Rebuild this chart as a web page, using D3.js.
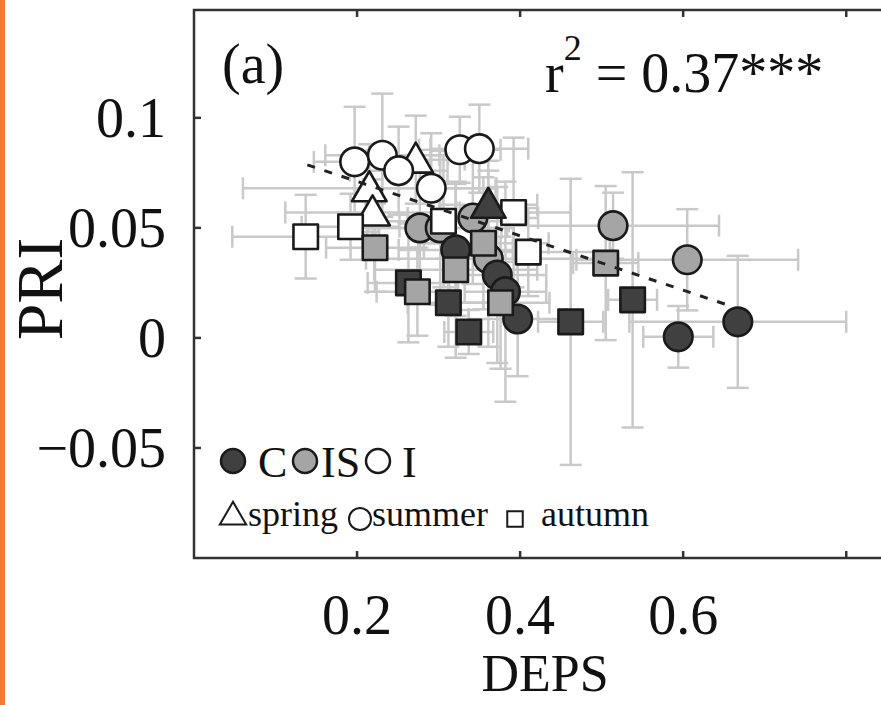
<!DOCTYPE html>
<html>
<head>
<meta charset="utf-8">
<script src="https://cdn.jsdelivr.net/npm/d3@7"></script>
<style>
  html, body { margin: 0; padding: 0; background: #fff; overflow: hidden; }
  svg { display: block; }
</style>
</head>
<body>
<div id="chart"></div>
<script>
// one entry per site x season mean
const groups  = ['I','I','I', 'I','I','I','I','I','I', 'I','I','I','I','I',
                 'IS','IS','IS','IS','IS','IS', 'C', 'C','C','C','C','C','C',
                 'C','C','C','C','C', 'IS','IS','IS','IS','IS','IS'];
const seasons = ['spring','spring','spring',
                 'summer','summer','summer','summer','summer','summer',
                 'autumn','autumn','autumn','autumn','autumn',
                 'summer','summer','summer','summer','summer','summer',
                 'spring',
                 'summer','summer','summer','summer','summer','summer',
                 'autumn','autumn','autumn','autumn','autumn',
                 'autumn','autumn','autumn','autumn','autumn','autumn'];
const deps    = [0.215, 0.219, 0.272,
                 0.197, 0.231, 0.251, 0.291, 0.326, 0.350,
                 0.137, 0.192, 0.306, 0.392, 0.410,
                 0.277, 0.302, 0.342, 0.361, 0.514, 0.605,
                 0.361,
                 0.321, 0.372, 0.382, 0.397, 0.594, 0.667,
                 0.263, 0.312, 0.337, 0.462, 0.538,
                 0.222, 0.274, 0.321, 0.355, 0.376, 0.505];
const pri     = [0.068, 0.057, 0.081,
                 0.080, 0.083, 0.076, 0.068, 0.0855, 0.086,
                 0.046, 0.0505, 0.053, 0.057, 0.039,
                 0.050, 0.050, 0.0545, 0.036, 0.051, 0.0355,
                 0.0605,
                 0.040, 0.0286, 0.021, 0.0086, 0.0005, 0.0073,
                 0.025, 0.016, 0.0027, 0.0073, 0.0173,
                 0.041, 0.021, 0.031, 0.043, 0.016, 0.034];
const depsErr = [0.155, 0.107, 0.06,
                 0.05, 0.07, 0.06, 0.08, 0.05, 0.06,
                 0.09, 0.06, 0.08, 0.07, 0.10,
                 0.10, 0.09, 0.08, 0.15, 0.13, 0.136,
                 0.06,
                 0.07, 0.06, 0.05, 0.06, 0.043, 0.133,
                 0.05, 0.05, 0.03, 0.04, 0.03,
                 0.06, 0.05, 0.10, 0.08, 0.06, 0.04];
const priErr  = [0.02, 0.015, 0.02,
                 0.025, 0.028, 0.02, 0.025, 0.015, 0.02,
                 0.019, 0.015, 0.03, 0.034, 0.02,
                 0.03, 0.035, 0.03, 0.04, 0.015, 0.023,
                 0.02,
                 0.03, 0.04, 0.05, 0.026, 0.014, 0.03,
                 0.027, 0.02, 0.01, 0.065, 0.058,
                 0.02, 0.02, 0.04, 0.03, 0.03, 0.035];

const xTicks = [0.2, 0.4, 0.6, 0.8];
const yTicks = [-0.05, 0, 0.05, 0.1];
const xTickLabels = ['0.2', '0.4', '0.6', ''];
const yTickLabels = ['\u22120.05', '0', '0.05', '0.1'];

const fitSlope = -0.1235;
const fitIntercept = 0.0958;
const fitRange = [0.139, 0.654];

const legendGroups = ['C', 'IS', 'I'];
const legendSeasons = ['spring', 'summer', 'autumn'];

const FILL = { C: '#404040', IS: '#a5a5a5', I: '#ffffff' };
const SHAPE = { spring: d3.symbolTriangle, summer: d3.symbolCircle, autumn: d3.symbolSquare };
const SIZE = { spring: 520, summer: 640, autumn: 600 };
const FONT = '"Liberation Serif", "Times New Roman", serif';
const INK = '#1a1a1a';

const W = 881, H = 705;
const plot = { left: 194, top: 10, right: 887, bottom: 558 };

const svg = d3.select('#chart').append('svg')
    .attr('width', W)
    .attr('height', H);

svg.append('rect').attr('width', W).attr('height', H).attr('fill', '#fff');
svg.append('rect').attr('width', 5).attr('height', H).attr('fill', '#ee7f36');

const x = d3.scaleLinear().domain([0, 0.85]).range([plot.left, plot.right]);
const y = d3.scaleLinear().domain([-0.1, 0.149]).range([plot.bottom, plot.top]);

const points = deps.map((d, i) => ({
    deps: d, pri: pri[i], dx: depsErr[i], dy: priErr[i],
    group: groups[i], season: seasons[i]
}));

// error bars sit under every marker
const errG = svg.append('g')
    .attr('stroke', '#c9c9c9')
    .attr('stroke-width', 2.5)
    .attr('fill', 'none');
const CAP = 11;
points.forEach(p => {
    const cx = x(p.deps), cy = y(p.pri);
    const x0 = x(p.deps - p.dx), x1 = x(p.deps + p.dx);
    const y0 = y(p.pri - p.dy), y1 = y(p.pri + p.dy);
    errG.append('line').attr('x1', x0).attr('x2', x1).attr('y1', cy).attr('y2', cy);
    errG.append('line').attr('x1', cx).attr('x2', cx).attr('y1', y0).attr('y2', y1);
    errG.append('line').attr('x1', x0).attr('x2', x0).attr('y1', cy - CAP).attr('y2', cy + CAP);
    errG.append('line').attr('x1', x1).attr('x2', x1).attr('y1', cy - CAP).attr('y2', cy + CAP);
    errG.append('line').attr('x1', cx - CAP).attr('x2', cx + CAP).attr('y1', y0).attr('y2', y0);
    errG.append('line').attr('x1', cx - CAP).attr('x2', cx + CAP).attr('y1', y1).attr('y2', y1);
});

// draw order roughly as in the figure
const order = ['I spring', 'I summer', 'IS summer', 'I autumn', 'C spring', 'C summer', 'C autumn', 'IS autumn'];
const sorted = points.slice().sort((a, b) =>
    order.indexOf(`${a.group} ${a.season}`) - order.indexOf(`${b.group} ${b.season}`));

svg.append('g').selectAll('path')
    .data(sorted)
    .join('path')
    .attr('transform', d => `translate(${x(d.deps)},${y(d.pri) + (d.season === 'spring' ? 3 : 0)})`)
    .attr('d', d => d3.symbol(SHAPE[d.season], SIZE[d.season])())
    .attr('fill', d => FILL[d.group])
    .attr('stroke', INK)
    .attr('stroke-width', 2.6)
    .attr('stroke-linejoin', 'round');

// regression
const fit = fitRange.map(v => ({ x: v, y: fitIntercept + fitSlope * v }));
svg.append('path')
    .attr('d', d3.line().x(d => x(d.x)).y(d => y(d.y))(fit))
    .attr('fill', 'none')
    .attr('stroke', '#222')
    .attr('stroke-width', 3)
    .attr('stroke-dasharray', '8,10');

// frame + inward ticks
svg.append('rect')
    .attr('x', plot.left).attr('y', plot.top)
    .attr('width', plot.right - plot.left).attr('height', plot.bottom - plot.top)
    .attr('fill', 'none').attr('stroke', '#333').attr('stroke-width', 2.5);

const tickG = svg.append('g').attr('stroke', '#333').attr('stroke-width', 2.5);
xTicks.forEach(t => {
    tickG.append('line').attr('x1', x(t)).attr('x2', x(t)).attr('y1', plot.bottom).attr('y2', plot.bottom - 7);
    tickG.append('line').attr('x1', x(t)).attr('x2', x(t)).attr('y1', plot.top).attr('y2', plot.top + 7);
});
yTicks.forEach(t => {
    tickG.append('line').attr('x1', plot.left).attr('x2', plot.left + 7).attr('y1', y(t)).attr('y2', y(t));
});

const text = (g, str, tx, ty, size, anchor) => g.append('text')
    .attr('x', tx).attr('y', ty)
    .attr('font-family', FONT)
    .attr('font-size', size)
    .attr('fill', '#111')
    .attr('text-anchor', anchor || 'start')
    .text(str);

xTicks.forEach((t, i) => text(svg, xTickLabels[i], x(t), 634, 56, 'middle'));
yTicks.forEach((t, i) => text(svg, yTickLabels[i], 166, y(t) + 19, 56, 'end'));

text(svg, 'DEPS', 545, 691, 52, 'middle');
text(svg, 'PRI', 0, 0, 66, 'middle')
    .attr('x', null).attr('y', null)
    .attr('transform', 'translate(62,289) rotate(-90)');

text(svg, '(a)', 222, 83, 56);

const r2 = text(svg, 'r', 545, 92, 56);
r2.append('tspan').attr('font-size', 36).attr('dy', -32).text('2');
r2.append('tspan').attr('dy', 32).text(' = 0.37');
r2.append('tspan').text('***');

// legend, row 1: site groups
const leg1 = svg.append('g');
const leg1X = [233, 305, 378];
const leg1Tx = [258, 321, 402];
legendGroups.forEach((g, i) => {
    leg1.append('circle')
        .attr('cx', leg1X[i]).attr('cy', 461).attr('r', 12)
        .attr('fill', FILL[g]).attr('stroke', INK).attr('stroke-width', 2.5);
    text(leg1, g === 'I' ? ' I' : g, leg1Tx[i], 477, 44);
});

// legend, row 2: seasons
const leg2 = svg.append('g');
const leg2X = [233, 360, 515];
const leg2Tx = [248, 372, 541];
const leg2Size = { spring: 300, summer: 380, autumn: 240 };
legendSeasons.forEach((s, i) => {
    leg2.append('path')
        .attr('transform', `translate(${leg2X[i]},${s === 'spring' ? 517 : 519})`)
        .attr('d', d3.symbol(SHAPE[s], leg2Size[s])())
        .attr('fill', '#fff').attr('stroke', INK).attr('stroke-width', 2);
    text(leg2, s, leg2Tx[i], 526, 36);
});
</script>
</body>
</html>
